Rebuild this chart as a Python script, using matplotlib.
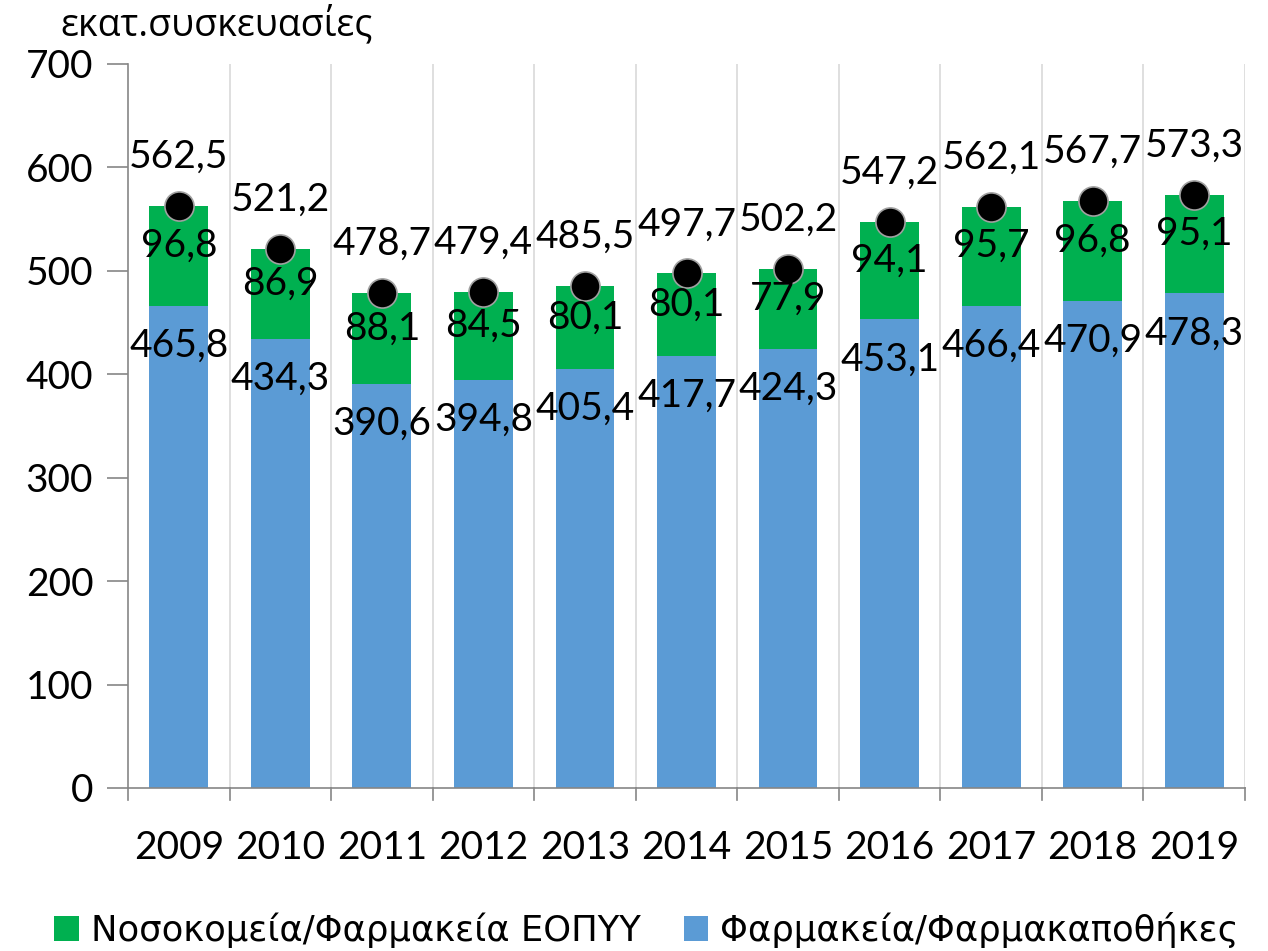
import matplotlib
matplotlib.use("Agg")
import matplotlib.pyplot as plt
import numpy as np

years = ["2009", "2010", "2011", "2012", "2013", "2014", "2015", "2016", "2017", "2018", "2019"]
pharmacies = [465.8, 434.3, 390.6, 394.8, 405.4, 417.7, 424.3, 453.1, 466.4, 470.9, 478.3]
hospitals = [96.8, 86.9, 88.1, 84.5, 80.1, 80.1, 77.9, 94.1, 95.7, 96.8, 95.1]
totals = [562.5, 521.2, 478.7, 479.4, 485.5, 497.7, 502.2, 547.2, 562.1, 567.7, 573.3]

BLUE = "#5b9bd5"
GREEN = "#00b050"
GRID = "#d9d9d9"
AXIS = "#868686"
NUM_FONT = "Lato"
NUM_SIZE = 28


def fmt(v):
    return f"{v:.1f}".replace(".", ",")


fig = plt.figure(figsize=(12.68, 9.51), dpi=100)
ax = fig.add_axes([128 / 1268, 1 - 788 / 951, (1245 - 128) / 1268, (788 - 64) / 951])

x = np.arange(len(years))
w = 0.58
ax.bar(x, pharmacies, width=w, color=BLUE, zorder=2, label="Φαρμακεία/Φαρμακαποθήκες")
ax.bar(x, hospitals, width=w, bottom=pharmacies, color=GREEN, zorder=2,
       label="Νοσοκομεία/Φαρμακεία ΕΟΠΥΥ")
ax.scatter(x, totals, s=440, color="black", edgecolor="#a0a0a0", linewidth=1.2, zorder=4)

for xi, p, h, t in zip(x, pharmacies, hospitals, totals):
    ax.annotate(fmt(p), (xi, p), xytext=(0, -40), textcoords="offset pixels",
                ha="center", va="center", fontsize=NUM_SIZE, family=NUM_FONT, zorder=5)
    ax.annotate(fmt(h), (xi, p + h / 2), xytext=(0, 10), textcoords="offset pixels",
                ha="center", va="center", fontsize=NUM_SIZE, family=NUM_FONT, zorder=5)
    ax.annotate(fmt(t), (xi, t), xytext=(0, 49), textcoords="offset pixels",
                ha="center", va="center", fontsize=NUM_SIZE, family=NUM_FONT, zorder=5)

ax.set_xlim(-0.5, len(years) - 0.5)
ax.set_ylim(0, 700)
ax.set_yticks(range(0, 701, 100))
ax.set_yticklabels([str(v) for v in range(0, 701, 100)], family=NUM_FONT, fontsize=NUM_SIZE)
ax.set_xticks(x)
ax.set_xticklabels(years, family=NUM_FONT, fontsize=NUM_SIZE)
ax.tick_params(axis="x", length=0, pad=30)
ax.tick_params(axis="y", length=15, width=1.2, color=AXIS, pad=10)

# category separators: gridlines plus downward ticks on the x axis
for b in np.arange(-0.5, len(years), 1.0):
    if b > -0.5:
        ax.axvline(b, color=GRID, lw=1.2, zorder=1)
    ax.plot([b, b], [0, -0.017], transform=ax.get_xaxis_transform(), color=AXIS,
            lw=1.2, clip_on=False, zorder=3)

for side in ("top", "right"):
    ax.spines[side].set_visible(False)
ax.spines["left"].set_color(AXIS)
ax.spines["bottom"].set_color(AXIS)
ax.spines["left"].set_linewidth(1.2)
ax.spines["bottom"].set_linewidth(1.2)

fig.text(60 / 1268, 1 - 25 / 951, "εκατ.συσκευασίες", fontsize=27, family="Open Sans",
         ha="left", va="center")

handles, labels = ax.get_legend_handles_labels()
fig.legend(handles[::-1], labels[::-1], loc="center", bbox_to_anchor=(0.51, 1 - 930 / 951),
           ncol=2, frameon=False, prop={"family": "DejaVu Sans", "size": 25.5},
           handlelength=0.68, handleheight=0.68, handletextpad=0.36, columnspacing=1.2)

fig.savefig("out.png", dpi=100)
